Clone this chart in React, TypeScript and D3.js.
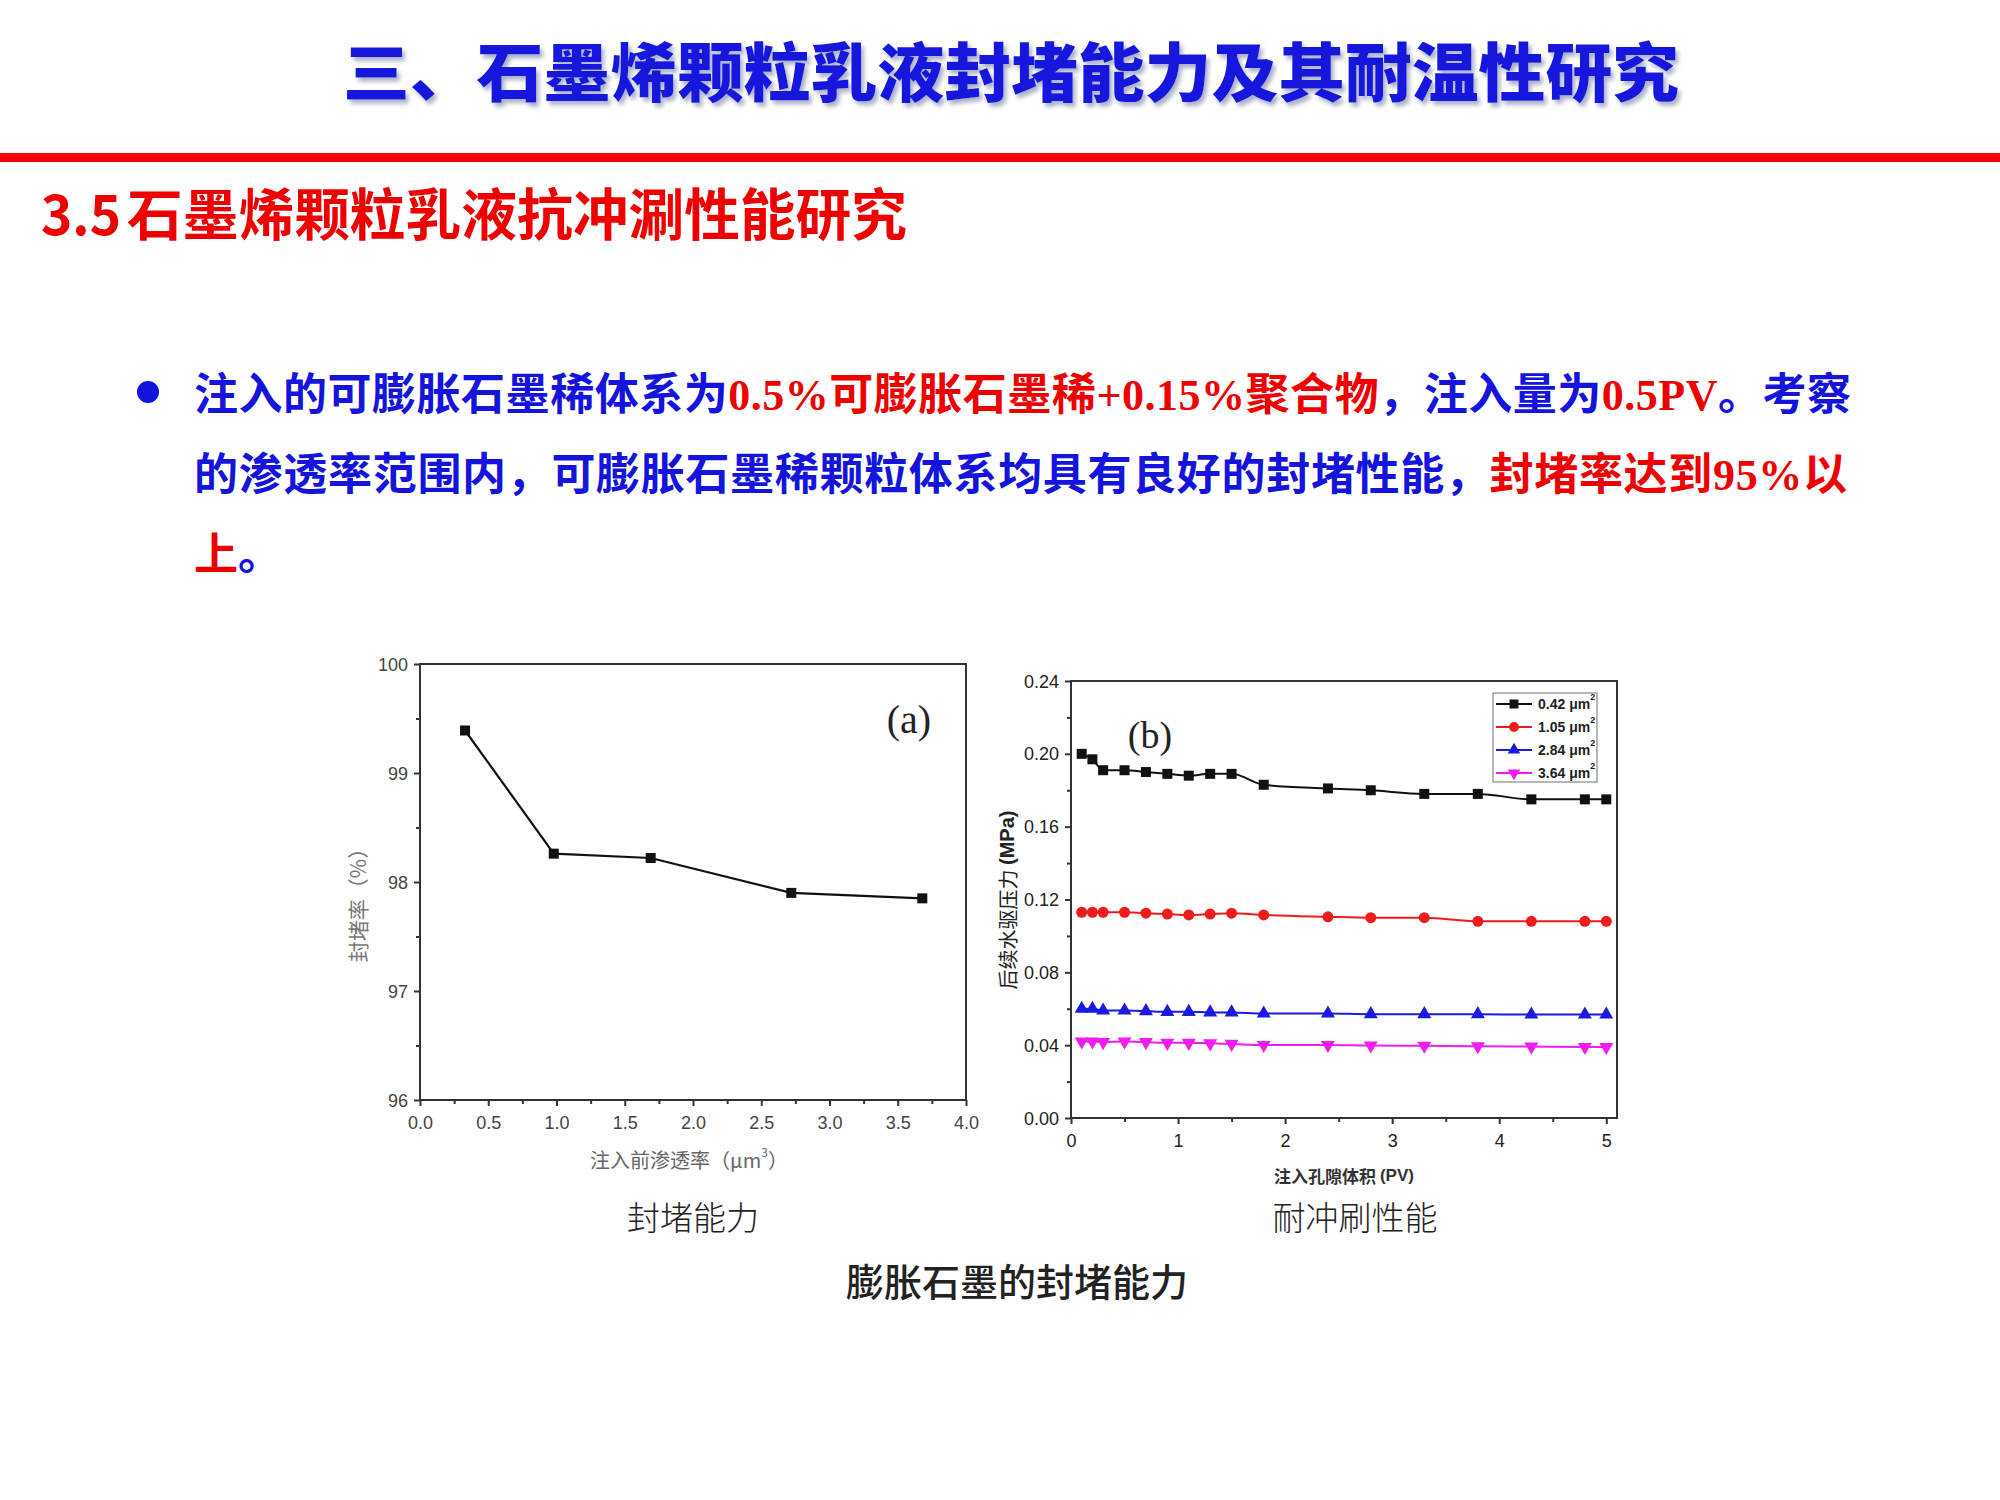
import * as d3 from "d3";
import { useEffect, useRef } from "react";

// (a) blocking rate vs permeability before injection
const permA = [0.33, 0.98, 1.69, 2.72, 3.68];
const rateA = [99.39, 98.26, 98.22, 97.9, 97.85];
const xTicksA = [0, 0.5, 1, 1.5, 2, 2.5, 3, 3.5, 4];
const xMinorA = [0.25, 0.75, 1.25, 1.75, 2.25, 2.75, 3.25, 3.75];
const yTicksA = [96, 97, 98, 99, 100];
const yMinorA = [96.5, 97.5, 98.5, 99.5];

// (b) subsequent water-drive pressure vs injected pore volume
const pvB = [0.1, 0.2, 0.3, 0.5, 0.7, 0.9, 1.1, 1.3, 1.5, 1.8, 2.4, 2.8, 3.3, 3.8, 4.3, 4.8, 5.0];
const p042 = [0.2, 0.197, 0.191, 0.191, 0.19, 0.189, 0.188, 0.189, 0.189, 0.183, 0.181, 0.18, 0.178, 0.178, 0.175, 0.175, 0.175];
const p105 = [0.113, 0.113, 0.113, 0.113, 0.1125, 0.112, 0.1115, 0.112, 0.1125, 0.1115, 0.1105, 0.11, 0.11, 0.108, 0.108, 0.108, 0.108];
const p284 = [0.06, 0.06, 0.059, 0.059, 0.0587, 0.0583, 0.0583, 0.058, 0.058, 0.0574, 0.0574, 0.057, 0.057, 0.057, 0.0568, 0.0568, 0.0568];
const p364 = [0.042, 0.042, 0.0417, 0.042, 0.0417, 0.0413, 0.0413, 0.041, 0.0407, 0.0401, 0.0401, 0.0398, 0.0397, 0.0394, 0.0392, 0.039, 0.039];
const legendB = ["0.42", "1.05", "2.84", "3.64"];
const xTicksB = [0, 1, 2, 3, 4, 5];
const xMinorB = [0.5, 1.5, 2.5, 3.5, 4.5];
const yTicksB = [0, 0.04, 0.08, 0.12, 0.16, 0.2, 0.24];
const yMinorB = [0.02, 0.06, 0.1, 0.14, 0.18, 0.22];

const CJK = "'Noto Sans CJK SC', 'Noto Sans', sans-serif";
const SANS = "'Liberation Sans', Arial, sans-serif";
const SERIF = "'Liberation Serif', 'Times New Roman', serif";
const BLUE = "#1414dc";
const RED = "#ee0000";

type Seg = { t: string; red?: boolean; num?: boolean };
const bulletLines: Seg[][] = [
  [
    { t: "注入的可膨胀石墨稀体系为" },
    { t: "0.5%", red: true, num: true },
    { t: "可膨胀石墨稀", red: true },
    { t: "+0.15%", red: true, num: true },
    { t: "聚合物", red: true },
    { t: "，注入量为" },
    { t: "0.5PV", red: true, num: true },
    { t: "。考察" },
  ],
  [
    { t: "的渗透率范围内，可膨胀石墨稀颗粒体系均具有良好的封堵性能，" },
    { t: "封堵率达到", red: true },
    { t: "95%", red: true, num: true },
    { t: "以", red: true },
  ],
  [{ t: "上", red: true }, { t: "。" }],
];

type Sel = d3.Selection<SVGGElement, unknown, null, undefined>;

function drawAxes(
  g: Sel,
  x: d3.ScaleLinear<number, number>,
  y: d3.ScaleLinear<number, number>,
  xt: number[],
  xm: number[],
  yt: number[],
  ym: number[],
  fx: (d: number) => string,
  fy: (d: number) => string,
  labelColor: string
) {
  const [x0, x1] = x.range();
  const [y0, y1] = y.range();
  const axisColor = "#333";
  const style = (a: Sel) => {
    a.select(".domain").remove();
    a.selectAll("line").attr("stroke", axisColor).attr("stroke-width", 2);
    a.selectAll("text")
      .attr("font-family", SANS)
      .attr("font-size", 18)
      .attr("fill", labelColor);
  };
  const bx = g.append("g").attr("transform", `translate(0,${y0})`);
  bx.call(d3.axisBottom(x).tickValues(xt).tickSize(6).tickSizeOuter(0).tickFormat((d) => fx(+d)));
  style(bx);
  bx.selectAll("text").attr("dy", null).attr("y", 23).attr("dominant-baseline", "central");
  const bxm = g.append("g").attr("transform", `translate(0,${y0})`);
  bxm.call(d3.axisBottom(x).tickValues(xm).tickSize(4).tickSizeOuter(0).tickFormat(() => ""));
  style(bxm);

  const ly = g.append("g").attr("transform", `translate(${x0},0)`);
  ly.call(d3.axisLeft(y).tickValues(yt).tickSize(6).tickSizeOuter(0).tickFormat((d) => fy(+d)));
  style(ly);
  ly.selectAll("text").attr("dy", null).attr("x", -12).attr("dominant-baseline", "central");
  const lym = g.append("g").attr("transform", `translate(${x0},0)`);
  lym.call(d3.axisLeft(y).tickValues(ym).tickSize(4).tickSizeOuter(0).tickFormat(() => ""));
  style(lym);

  g.append("rect")
    .attr("x", x0)
    .attr("y", y1)
    .attr("width", x1 - x0)
    .attr("height", y0 - y1)
    .attr("fill", "none")
    .attr("stroke", axisColor)
    .attr("stroke-width", 2);
}

export default function App() {
  const ref = useRef<SVGSVGElement | null>(null);
  useEffect(() => {
    if (!ref.current) return;
    const svg = d3.select(ref.current);
    svg.selectAll("*").remove();

    const defs = svg.append("defs");
    const shadow = defs.append("filter").attr("id", "titleShadow").attr("x", "-5%").attr("y", "-20%").attr("width", "110%").attr("height", "150%");
    shadow.append("feDropShadow").attr("dx", 3).attr("dy", 4).attr("stdDeviation", 2).attr("flood-color", "#8f95b8").attr("flood-opacity", 0.75);

    svg.append("rect").attr("width", 2000).attr("height", 1500).attr("fill", "#fff");

    // header
    svg.append("text")
      .attr("x", 343)
      .attr("y", 96)
      .attr("textLength", 1336)
      .attr("lengthAdjust", "spacingAndGlyphs")
      .attr("font-family", CJK)
      .attr("font-weight", 900)
      .attr("font-size", 64)
      .attr("fill", BLUE)
      .attr("filter", "url(#titleShadow)")
      .text("三、石墨烯颗粒乳液封堵能力及其耐温性研究");
    svg.append("rect").attr("x", 0).attr("y", 153).attr("width", 2000).attr("height", 9).attr("fill", "#f00");

    svg.append("text")
      .attr("x", 41)
      .attr("y", 235)
      .attr("textLength", 80)
      .attr("lengthAdjust", "spacingAndGlyphs")
      .attr("font-family", CJK)
      .attr("font-weight", 700)
      .attr("font-size", 56)
      .attr("fill", RED)
      .text("3.5");
    svg.append("text")
      .attr("x", 127)
      .attr("y", 235)
      .attr("textLength", 780)
      .attr("lengthAdjust", "spacingAndGlyphs")
      .attr("font-family", CJK)
      .attr("font-weight", 700)
      .attr("font-size", 56)
      .attr("fill", RED)
      .text("石墨烯颗粒乳液抗冲涮性能研究");

    // bullet paragraph
    svg.append("circle").attr("cx", 148).attr("cy", 392).attr("r", 11).attr("fill", BLUE);
    const lineLen = [1657, 1653, 0];
    bulletLines.forEach((segs, i) => {
      const t = svg.append("text")
        .attr("x", 194)
        .attr("y", 410 + i * 80)
        .attr("font-size", 44)
        .attr("font-weight", 700);
      if (lineLen[i]) t.attr("textLength", lineLen[i]).attr("lengthAdjust", "spacing");
      segs.forEach((s) => {
        t.append("tspan")
          .attr("font-family", s.num ? SERIF : CJK)
          .attr("fill", s.red ? RED : BLUE)
          .text(s.t);
      });
    });

    // chart (a)
    const xA = d3.scaleLinear().domain([0, 4]).range([420, 966]);
    const yA = d3.scaleLinear().domain([96, 100]).range([1100, 664]);
    const gA = svg.append("g");
    drawAxes(gA, xA, yA, xTicksA, xMinorA, yTicksA, yMinorA, (d) => d.toFixed(1), (d) => String(d), "#444");
    const lineA = d3.line<number>().x((_, i) => xA(permA[i])).y((d) => yA(d));
    gA.append("path").attr("d", lineA(rateA) ?? "").attr("fill", "none").attr("stroke", "#111").attr("stroke-width", 2.2);
    gA.selectAll("rect.pt")
      .data(rateA)
      .join("rect")
      .attr("class", "pt")
      .attr("x", (_, i) => xA(permA[i]) - 5)
      .attr("y", (d) => yA(d) - 5)
      .attr("width", 10)
      .attr("height", 10)
      .attr("fill", "#111");
    gA.append("text")
      .attr("x", 909)
      .attr("y", 733)
      .attr("text-anchor", "middle")
      .attr("font-family", SERIF)
      .attr("font-size", 40)
      .attr("fill", "#222")
      .text("(a)");
    gA.append("text")
      .attr("transform", "translate(357,900) rotate(-90)")
      .attr("text-anchor", "middle")
      .attr("dominant-baseline", "central")
      .attr("font-family", CJK)
      .attr("font-size", 21)
      .attr("fill", "#777")
      .text("封堵率（%）");
    const xlA = gA.append("text")
      .attr("x", 689)
      .attr("y", 1159)
      .attr("text-anchor", "middle")
      .attr("dominant-baseline", "central")
      .attr("font-family", CJK)
      .attr("font-size", 20)
      .attr("fill", "#666");
    xlA.append("tspan").text("注入前渗透率（μm");
    xlA.append("tspan").attr("font-size", 12).attr("dy", -8).text("3");
    xlA.append("tspan").attr("dy", 8).text("）");

    // chart (b)
    const xB = d3.scaleLinear().domain([0, 5.1]).range([1071, 1617]);
    const yB = d3.scaleLinear().domain([0, 0.24]).range([1118, 681]);
    const gB = svg.append("g");
    drawAxes(gB, xB, yB, xTicksB, xMinorB, yTicksB, yMinorB, (d) => String(d), (d) => d.toFixed(2), "#222");
    const seriesB = [
      { vals: p042, color: "#111111", sym: d3.symbolSquare, size: 100, rot: 0 },
      { vals: p105, color: "#ee1c1c", sym: d3.symbolCircle, size: 95, rot: 0 },
      { vals: p284, color: "#1a1ae0", sym: d3.symbolTriangle, size: 85, rot: 0 },
      { vals: p364, color: "#f01cf0", sym: d3.symbolTriangle, size: 85, rot: 180 },
    ];
    const lineB = d3
      .line<number>()
      .x((_, i) => xB(pvB[i]))
      .y((d) => yB(d))
      .curve(d3.curveMonotoneX);
    seriesB.forEach((s) => {
      gB.append("path").attr("d", lineB(s.vals) ?? "").attr("fill", "none").attr("stroke", s.color).attr("stroke-width", 2);
      const sym = d3.symbol().type(s.sym).size(s.size)();
      gB.append("g")
        .selectAll("path")
        .data(s.vals)
        .join("path")
        .attr("d", sym)
        .attr("transform", (d, i) => `translate(${xB(pvB[i])},${yB(d)}) rotate(${s.rot})`)
        .attr("fill", s.color);
    });
    gB.append("text")
      .attr("x", 1150)
      .attr("y", 748)
      .attr("text-anchor", "middle")
      .attr("font-family", SERIF)
      .attr("font-size", 38)
      .attr("fill", "#222")
      .text("(b)");

    // legend (b)
    const lg = gB.append("g");
    lg.append("rect").attr("x", 1493).attr("y", 693).attr("width", 104).attr("height", 89).attr("fill", "#fff").attr("stroke", "#888").attr("stroke-width", 1.2);
    seriesB.forEach((s, i) => {
      const ly = 704 + i * 23;
      lg.append("line").attr("x1", 1496).attr("x2", 1532).attr("y1", ly).attr("y2", ly).attr("stroke", s.color).attr("stroke-width", 2);
      lg.append("path")
        .attr("d", d3.symbol().type(s.sym).size(s.size * 0.8)())
        .attr("transform", `translate(1514,${ly}) rotate(${s.rot})`)
        .attr("fill", s.color);
      const t = lg.append("text")
        .attr("x", 1538)
        .attr("y", ly)
        .attr("dominant-baseline", "central")
        .attr("font-family", SANS)
        .attr("font-weight", 700)
        .attr("font-size", 14)
        .attr("fill", "#222");
      t.append("tspan").text(`${legendB[i]} μm`);
      t.append("tspan").attr("font-size", 9).attr("dy", -7).text("2");
    });

    const ylB = gB.append("text")
      .attr("transform", "translate(1007,900) rotate(-90)")
      .attr("text-anchor", "middle")
      .attr("dominant-baseline", "central")
      .attr("font-size", 20)
      .attr("fill", "#222");
    ylB.append("tspan").attr("font-family", CJK).text("后续水驱压力 ");
    ylB.append("tspan").attr("font-family", SANS).attr("font-weight", 700).text("(MPa)");
    const xlB = gB.append("text")
      .attr("x", 1344)
      .attr("y", 1175)
      .attr("text-anchor", "middle")
      .attr("dominant-baseline", "central")
      .attr("font-size", 17)
      .attr("font-weight", 700)
      .attr("fill", "#333");
    xlB.append("tspan").attr("font-family", CJK).text("注入孔隙体积 ");
    xlB.append("tspan").attr("font-family", SANS).text("(PV)");

    // captions
    const cap = (x: number, y: number, size: number, weight: number, txt: string) =>
      svg.append("text")
        .attr("x", x)
        .attr("y", y)
        .attr("text-anchor", "middle")
        .attr("dominant-baseline", "central")
        .attr("font-family", CJK)
        .attr("font-size", size)
        .attr("font-weight", weight)
        .attr("fill", "#222")
        .text(txt);
    cap(693, 1216, 33, 300, "封堵能力");
    cap(1355, 1216, 33, 300, "耐冲刷性能");
    cap(1017, 1279, 38, 500, "膨胀石墨的封堵能力");
  }, []);

  return (
    <svg
      ref={ref}
      width={2000}
      height={1500}
      viewBox="0 0 2000 1500"
      style={{ position: "absolute", left: 0, top: 0, display: "block" }}
    />
  );
}
